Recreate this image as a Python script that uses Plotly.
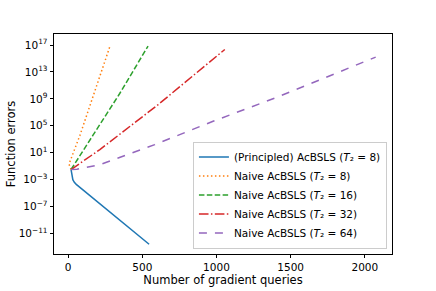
import plotly.graph_objects as go

# ---- data ----
principled_x = [20, 25, 32, 42, 55, 546]
principled_y = [3.2e-2, 5.0e-3, 1.0e-3, 4.0e-4, 2.0e-4, 2.5e-13]

naive8_x = [20, 6, 80, 170, 281]
naive8_y = [3.2e-2, 2.0e-1, 4.0e3, 3.2e9, 5.6e16]

naive16_x = [20, 34, 168, 348, 539]
naive16_y = [3.2e-2, 1.0e-1, 4.0e3, 6.3e9, 7.1e16]

naive32_x = [20, 214, 607, 1056]
naive32_y = [3.2e-2, 2.9e1, 1.4e8, 2.2e16]

naive64_x = [20, 60, 214, 394, 584, 977, 1404, 2073]
naive64_y = [3.2e-2, 3.5e-2, 1.7e-1, 5.2, 1.6e2, 4.7e5, 1.6e9, 1.6e15]

y_tick_vals = [1e-11, 1e-7, 1e-3, 1e1, 1e5, 1e9, 1e13, 1e17]
y_tick_text = ["10<sup>−11</sup>", "10<sup>−7</sup>", "10<sup>−3</sup>", "10<sup>1</sup>",
               "10<sup>5</sup>", "10<sup>9</sup>", "10<sup>13</sup>", "10<sup>17</sup>"]
x_tick_vals = [0, 500, 1000, 1500, 2000]

names = [
    "(Principled) AcBSLS (<i>T</i>₂ = 8)",
    "Naive AcBSLS (<i>T</i>₂ = 8)",
    "Naive AcBSLS (<i>T</i>₂ = 16)",
    "Naive AcBSLS (<i>T</i>₂ = 32)",
    "Naive AcBSLS (<i>T</i>₂ = 64)",
]
colors = ["#1f77b4", "#ff7f0e", "#2ca02c", "#d62728", "#9467bd"]
dashes = ["solid", "1.5px,2.5px", "5.5px,2.4px", "9.6px,2.4px,1.5px,2.4px", "8px,8px"]

series = [
    (principled_x, principled_y),
    (naive8_x, naive8_y),
    (naive16_x, naive16_y),
    (naive32_x, naive32_y),
    (naive64_x, naive64_y),
]

fig = go.Figure()
for (xs, ys), n, c, d in zip(series, names, colors, dashes):
    fig.add_trace(go.Scatter(x=xs, y=ys, mode="lines", name=n,
                             line=dict(color=c, width=1.5, dash=d)))

font = dict(family="DejaVu Sans", size=10.5, color="black")
fig.update_layout(
    width=436, height=291,
    margin=dict(l=54, r=44, t=34, b=37),
    paper_bgcolor="white", plot_bgcolor="white",
    font=font,
    showlegend=True,
    legend=dict(
        x=0.985, y=0.025, xanchor="right", yanchor="bottom",
        bgcolor="rgba(255,255,255,0.8)", bordercolor="#cccccc", borderwidth=1,
        font=dict(family="DejaVu Sans", size=10.5, color="black"),
        tracegroupgap=0, itemwidth=30,
    ),
)
fig.update_xaxes(
    range=[-95, 2183], tickvals=x_tick_vals, automargin=False,
    showgrid=False, zeroline=False,
    showline=True, linecolor="black", linewidth=0.8, mirror=True,
    ticks="outside", ticklen=3.5, tickwidth=0.8, tickcolor="black",
    title=dict(text="Number of gradient queries", font=dict(size=11.5), standoff=2),
)
fig.update_yaxes(
    type="log", range=[-14.05, 18.64], automargin=False,
    tickvals=y_tick_vals, ticktext=y_tick_text,
    showgrid=False, zeroline=False,
    showline=True, linecolor="black", linewidth=0.8, mirror=True,
    ticks="outside", ticklen=3.5, tickwidth=0.8, tickcolor="black",
    title=dict(text="Function errors", font=dict(size=11.5), standoff=0),
)

fig.write_html("out.html", config={"displayModeBar": False},
               post_script="document.body.style.margin='0';")
